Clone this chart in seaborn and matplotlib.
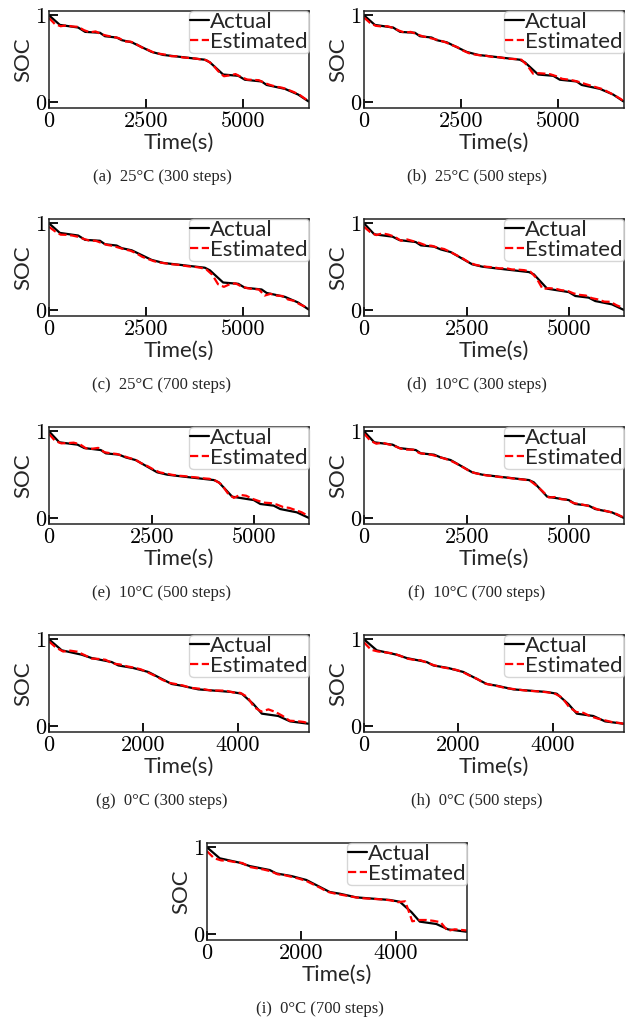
import matplotlib
matplotlib.use("Agg")
import matplotlib.pyplot as plt
import seaborn as sns
import numpy as np
import pandas as pd

# time grids (s) and actual SOC breakpoints for each temperature
t25_act = [0, 280, 750, 930, 1310, 1440, 1740, 1870, 2130, 2640, 2940, 3330, 4010, 4140,
           4480, 4870, 5040, 5470, 5600, 6070, 6410, 6680]
soc25_act = [1.0, 0.89, 0.86, 0.81, 0.80, 0.76, 0.745, 0.715, 0.69, 0.58, 0.545, 0.525, 0.49, 0.46,
             0.32, 0.305, 0.26, 0.24, 0.20, 0.155, 0.09, 0.01]

t10_act = [0, 250, 695, 860, 1260, 1385, 1705, 1870, 2110, 2635, 2880, 3285, 4015, 4135,
           4460, 4985, 5145, 5470, 5630, 6035, 6330]
soc10_act = [1.0, 0.874, 0.847, 0.808, 0.785, 0.747, 0.732, 0.70, 0.67, 0.529, 0.502, 0.479, 0.44, 0.414,
             0.249, 0.21, 0.165, 0.146, 0.107, 0.069, 0.004]

t0_act = [0, 270, 690, 905, 1330, 1470, 1790, 2105, 2600, 2815, 3165, 3875, 4085, 4330,
          4510, 4860, 5110, 5500]
soc0_act = [1.0, 0.874, 0.824, 0.785, 0.739, 0.70, 0.67, 0.625, 0.487, 0.467, 0.425, 0.395, 0.375, 0.257,
            0.146, 0.119, 0.057, 0.03]

t25_est = [0, 150, 300, 450, 600, 750, 900, 1050, 1200, 1350, 1500, 1650, 1800, 1950, 2100, 2250,
           2400, 2550, 2700, 2850, 3000, 3150, 3300, 3450, 3600, 3750, 3900, 4050, 4200, 4350,
           4500, 4650, 4800, 4950, 5100, 5250, 5400, 5550, 5700, 5850, 6000, 6150, 6300, 6450,
           6600, 6680]
t10_est = [0, 150, 300, 450, 600, 750, 900, 1050, 1200, 1350, 1500, 1650, 1800, 1950, 2100, 2250,
           2400, 2550, 2700, 2850, 3000, 3150, 3300, 3450, 3600, 3750, 3900, 4050, 4200, 4350,
           4500, 4650, 4800, 4950, 5100, 5250, 5400, 5550, 5700, 5850, 6000, 6150, 6300]
t0_est = [0, 150, 300, 450, 600, 750, 900, 1050, 1200, 1350, 1500, 1650, 1800, 1950, 2100, 2250,
          2400, 2550, 2700, 2850, 3000, 3150, 3300, 3450, 3600, 3750, 3900, 4050, 4200, 4350,
          4500, 4650, 4800, 4950, 5100, 5250, 5400, 5500]

# estimated SOC for each panel
est_a = [0.97, 0.90, 0.875, 0.885, 0.872, 0.868, 0.83, 0.805, 0.815, 0.782, 0.765, 0.752, 0.738, 0.70,
         0.698, 0.668, 0.628, 0.603, 0.572, 0.558, 0.548, 0.53, 0.53, 0.516, 0.51, 0.505, 0.494, 0.485,
         0.44, 0.36, 0.30, 0.31, 0.325, 0.29, 0.262, 0.258, 0.255, 0.222, 0.198, 0.18, 0.168, 0.145,
         0.118, 0.085, 0.038, 0.01]
est_b = [0.975, 0.915, 0.88, 0.872, 0.875, 0.855, 0.825, 0.80, 0.81, 0.785, 0.76, 0.745, 0.728, 0.712,
         0.69, 0.66, 0.635, 0.595, 0.565, 0.55, 0.54, 0.535, 0.522, 0.52, 0.508, 0.50, 0.498, 0.49,
         0.425, 0.33, 0.335, 0.33, 0.322, 0.30, 0.27, 0.262, 0.25, 0.232, 0.21, 0.19, 0.17, 0.15,
         0.115, 0.08, 0.04, 0.015]
est_c = [0.96, 0.91, 0.87, 0.868, 0.86, 0.845, 0.82, 0.80, 0.80, 0.775, 0.752, 0.74, 0.72, 0.70,
         0.685, 0.655, 0.615, 0.59, 0.565, 0.55, 0.54, 0.53, 0.525, 0.515, 0.505, 0.50, 0.49, 0.47,
         0.41, 0.30, 0.27, 0.30, 0.31, 0.275, 0.255, 0.245, 0.24, 0.17, 0.19, 0.17, 0.165, 0.125,
         0.11, 0.07, 0.04, 0.02]
est_d = [0.96, 0.90, 0.865, 0.885, 0.87, 0.845, 0.80, 0.815, 0.795, 0.775, 0.748, 0.742, 0.72, 0.705,
         0.672, 0.635, 0.598, 0.553, 0.525, 0.51, 0.50, 0.495, 0.482, 0.485, 0.47, 0.468, 0.462, 0.445,
         0.37, 0.245, 0.255, 0.25, 0.232, 0.225, 0.195, 0.178, 0.17, 0.14, 0.125, 0.10, 0.098, 0.058,
         0.03]
est_e = [0.97, 0.89, 0.862, 0.865, 0.87, 0.852, 0.805, 0.80, 0.81, 0.76, 0.748, 0.74, 0.718, 0.695,
         0.675, 0.632, 0.60, 0.56, 0.528, 0.515, 0.50, 0.49, 0.485, 0.476, 0.47, 0.46, 0.455, 0.435,
         0.39, 0.29, 0.235, 0.27, 0.26, 0.225, 0.20, 0.18, 0.175, 0.158, 0.13, 0.12, 0.095, 0.07,
         0.03]
est_f = [0.975, 0.895, 0.858, 0.87, 0.85, 0.83, 0.80, 0.79, 0.79, 0.75, 0.74, 0.73, 0.71, 0.688,
         0.665, 0.63, 0.59, 0.548, 0.52, 0.505, 0.492, 0.486, 0.475, 0.47, 0.46, 0.452, 0.445, 0.43,
         0.375, 0.31, 0.24, 0.245, 0.22, 0.215, 0.175, 0.165, 0.15, 0.13, 0.10, 0.09, 0.072, 0.05,
         0.015]
est_g = [0.975, 0.905, 0.86, 0.87, 0.858, 0.82, 0.78, 0.775, 0.765, 0.722, 0.712, 0.69, 0.675, 0.655,
         0.618, 0.58, 0.535, 0.50, 0.485, 0.468, 0.442, 0.435, 0.425, 0.41, 0.412, 0.41, 0.39, 0.385,
         0.34, 0.22, 0.17, 0.195, 0.165, 0.12, 0.065, 0.06, 0.05, 0.035]
est_h = [0.965, 0.88, 0.86, 0.85, 0.84, 0.815, 0.78, 0.765, 0.76, 0.728, 0.70, 0.68, 0.665, 0.65,
         0.622, 0.58, 0.545, 0.495, 0.475, 0.46, 0.44, 0.43, 0.42, 0.41, 0.405, 0.40, 0.39, 0.375,
         0.33, 0.22, 0.165, 0.155, 0.115, 0.09, 0.07, 0.05, 0.04, 0.03]
est_i = [0.955, 0.875, 0.85, 0.845, 0.83, 0.82, 0.775, 0.76, 0.745, 0.725, 0.69, 0.68, 0.66, 0.64,
         0.615, 0.575, 0.535, 0.49, 0.47, 0.455, 0.44, 0.425, 0.415, 0.41, 0.405, 0.40, 0.39, 0.37,
         0.38, 0.15, 0.165, 0.165, 0.155, 0.14, 0.04, 0.058, 0.05, 0.045]

captions = ["(a)  25°C (300 steps)", "(b)  25°C (500 steps)", "(c)  25°C (700 steps)",
            "(d)  10°C (300 steps)", "(e)  10°C (500 steps)", "(f)  10°C (700 steps)",
            "(g)  0°C (300 steps)", "(h)  0°C (500 steps)", "(i)  0°C (700 steps)"]

panels = [
    (t25_act, soc25_act, t25_est, est_a, [0, 2500, 5000], 6690),
    (t25_act, soc25_act, t25_est, est_b, [0, 2500, 5000], 6690),
    (t25_act, soc25_act, t25_est, est_c, [0, 2500, 5000], 6690),
    (t10_act, soc10_act, t10_est, est_d, [0, 2500, 5000], 6330),
    (t10_act, soc10_act, t10_est, est_e, [0, 2500, 5000], 6330),
    (t10_act, soc10_act, t10_est, est_f, [0, 2500, 5000], 6330),
    (t0_act, soc0_act, t0_est, est_g, [0, 2000, 4000], 5510),
    (t0_act, soc0_act, t0_est, est_h, [0, 2000, 4000], 5510),
    (t0_act, soc0_act, t0_est, est_i, [0, 2000, 4000], 5510),
]

sns.set_style("white")
plt.rcParams["font.family"] = ["Lato", "DejaVu Sans"]

W, H = 631, 1019
fig = plt.figure(figsize=(W / 100, H / 100), dpi=100)

# pixel layout of the axes
lefts = [49, 364, 49, 364, 49, 364, 49, 364, 207]
tops = [11, 11, 219, 219, 427, 427, 635, 635, 843]
aw, ah = 260, 97

for k, (ta, sa, te, se, xt, xmax) in enumerate(panels):
    l, t = lefts[k], tops[k]
    ax = fig.add_axes([l / W, 1 - (t + ah) / H, aw / W, ah / H])
    sns.lineplot(x=ta, y=sa, ax=ax, color="black", lw=1.6, label="Actual")
    sns.lineplot(x=te, y=se, ax=ax, color="red", lw=1.6, linestyle="--", label="Estimated")
    ax.set_xlim(0, xmax)
    ax.set_ylim(-0.065, 1.05)
    ax.set_xticks(xt)
    ax.set_yticks([0, 1])
    ax.tick_params(direction="in", length=6.5, width=1.3, labelsize=16, pad=2,
                   labelfontfamily="cmr10", colors="black", bottom=True, left=True)
    ax.tick_params(axis="x", pad=2.5)
    for s in ax.spines.values():
        s.set_color("#222222")
        s.set_linewidth(1.1)
    ax.set_xlabel("Time(s)", fontsize=16, labelpad=1.5)
    ax.set_ylabel("SOC", fontsize=16, labelpad=1)
    ax.legend(loc="upper right", fontsize=16, borderaxespad=0, borderpad=0.05,
              labelspacing=0.0, handlelength=0.85, handletextpad=0.05, frameon=True)
    cx = (l - 34 + l + aw) / 2
    cy = t + 166
    fig.text(cx / W, 1 - cy / H, captions[k], ha="center", va="center",
             fontsize=12, family="Liberation Serif")

fig.savefig("out.png", dpi=100)
